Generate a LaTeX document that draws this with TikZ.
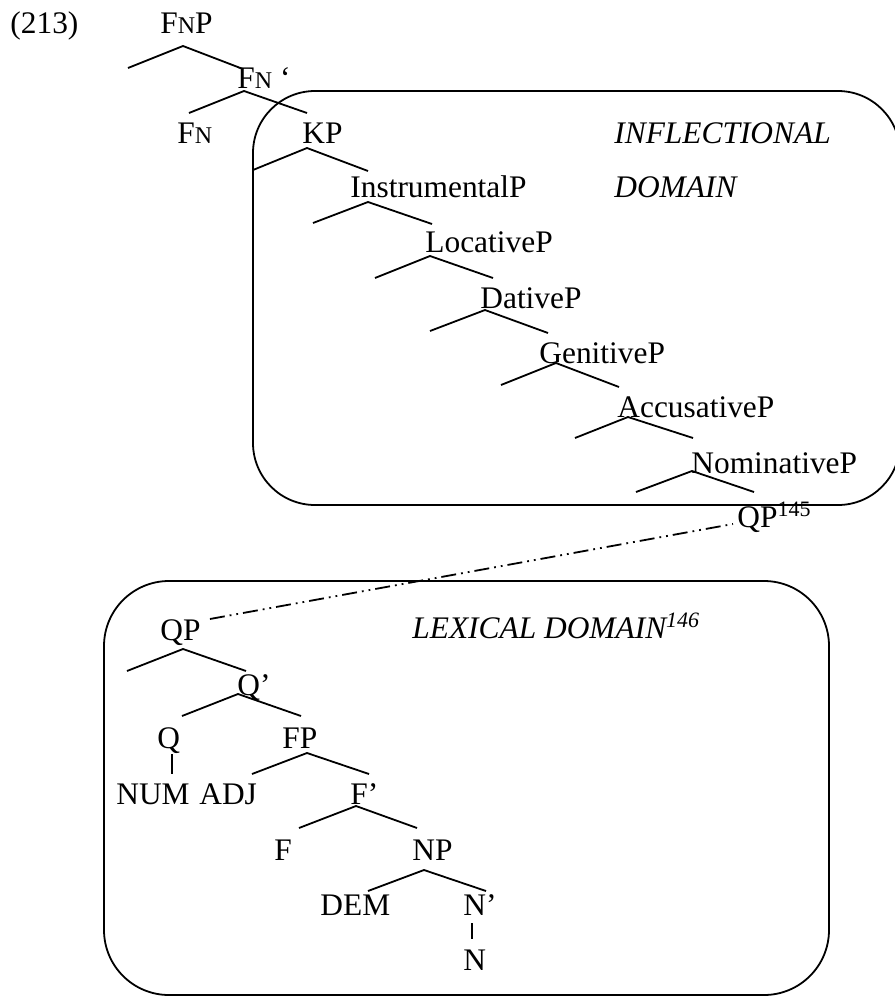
\documentclass[tikz,border=0pt]{standalone}
\usepackage{fontspec}
\setmainfont{Liberation Serif}
\usetikzlibrary{calc}
\newcommand\myscN{{\fontsize{12}{14}\selectfont N}}
\begin{document}
\begin{tikzpicture}[x=0.5pt,y=-0.5pt,
  lab/.style={inner sep=0pt, anchor=base west, font=\fontsize{15.7}{18}\selectfont},
  tree/.style={line width=0.9pt},
  domainbox/.style={line width=0.9pt, rounded corners=31pt},
  link/.style={line width=0.9pt, dash pattern=on 7.5pt off 2.5pt on 0.9pt off 2.5pt on 0.9pt off 2.5pt}]
\useasboundingbox (0,0) rectangle (895,997);

% --- inflectional part ---
\node[lab] (ex) at (10,33) {(213)};
\node[lab] (fnp) at (160,33) {F\myscN P};
\node[lab] (fnbar) at (237,88) {F\myscN\ ‘};
\node[lab] (fn) at (177,143) {F\myscN};
\node[lab] (kp) at (302,143) {KP};
\node[lab] (instr) at (350,197) {InstrumentalP};
\node[lab] (loc) at (425,252) {LocativeP};
\node[lab] (dat) at (480,308) {DativeP};
\node[lab] (gen) at (539,363) {GenitiveP};
\node[lab] (acc) at (617,417) {AccusativeP};
\node[lab] (nom) at (691,473) {NominativeP};
\node[lab] (qpup) at (737,527) {QP\textsuperscript{145}};
\node[lab] (infl) at (614,143) {\itshape INFLECTIONAL};
\node[lab] (dom) at (614,197) {\itshape DOMAIN};

\draw[tree] (128,68) -- (183,46) -- (243,69);
\draw[tree] (189,113) -- (244,91) -- (307,113);
\draw[tree] (253,170) -- (307,148) -- (368,171);
\draw[tree] (313,223) -- (368,202) -- (432,224);
\draw[tree] (375,278) -- (430,256) -- (493,278);
\draw[tree] (430,331) -- (485,310) -- (548,333);
\draw[tree] (501,385) -- (556,363) -- (619,387);
\draw[tree] (575,438) -- (628,417) -- (693,438);
\draw[tree] (636,492) -- (692,471) -- (754,492);

\draw[domainbox] (253,91) rectangle (900,505);

% --- lexical part ---
\node[lab] (qp) at (160,640) {QP};
\node[lab] (qbar) at (237,695) {Q’};
\node[lab] (q) at (157,748) {Q};
\node[lab] (fp) at (282,748) {FP};
\node[lab] (num) at (116,804) {NUM};
\node[lab] (adj) at (199,804) {ADJ};
\node[lab] (fbar) at (350,804) {F’};
\node[lab] (f) at (274,860) {F};
\node[lab] (np) at (412,860) {NP};
\node[lab] (dem) at (320,915) {DEM};
\node[lab] (nbar) at (463,915) {N’};
\node[lab] (n) at (463,970) {N};
\node[lab] (lex) at (412,638) {\itshape LEXICAL DOMAIN\textsuperscript{146}};

\draw[tree] (127,671) -- (183,649) -- (246,671);
\draw[tree] (182,716) -- (238,694) -- (301,716);
\draw[tree] (252,774) -- (307,753) -- (369,774);
\draw[tree] (299,828) -- (356,806) -- (417,828);
\draw[tree] (368,891) -- (424,870) -- (486,891);
\draw[tree] (172,754) -- (172,774);
\draw[tree] (472,923) -- (472,939);

\draw[domainbox, rounded corners=32.5pt] (104,581) rectangle (829,995);

\draw[link] ($(qp.base east)+(9,-21)$) -- ($(qpup.base west)+(-4,-3)$);
\end{tikzpicture}
\end{document}
